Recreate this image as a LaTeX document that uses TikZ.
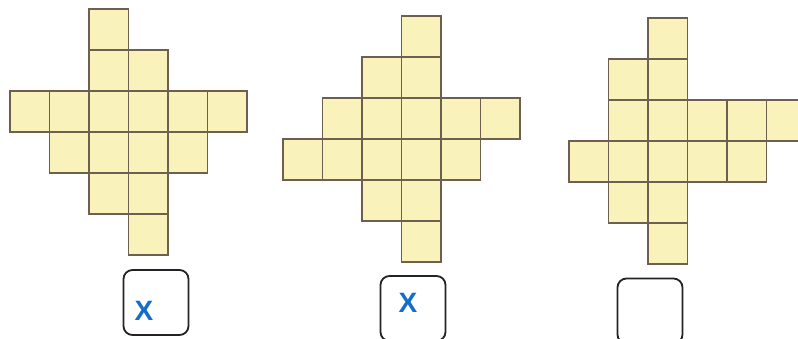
\documentclass[tikz,border=0pt]{standalone}
\usepackage{fontspec}
\setsansfont{Liberation Sans}
\definecolor{cellfill}{RGB}{249,242,186}
\definecolor{celledge}{RGB}{110,95,78}
\definecolor{markblue}{RGB}{20,110,200}
\definecolor{boxedge}{RGB}{35,35,35}
\begin{document}
\begin{tikzpicture}[
  x=1pt, y=-1pt,
  cell/.style={draw=celledge, line width=1.1pt, fill=cellfill, minimum width=39.5pt, minimum height=41pt, inner sep=0pt},
  answer/.style={draw=boxedge, line width=1.8pt, rounded corners=9pt, minimum width=65pt, minimum height=65pt, inner sep=0pt},
  xmark/.style={font=\fontsize{28}{28}\selectfont\sffamily\bfseries, text=markblue, inner sep=0pt}
]
  \useasboundingbox (0,0) rectangle (798,338);

  % first net
  \foreach \c/\r in {2/0, 2/1, 3/1, 0/2, 1/2, 2/2, 3/2, 4/2, 5/2, 1/3, 2/3, 3/3, 4/3, 2/4, 3/4, 3/5}
    \node[cell] (a-\c-\r) at (10+39.5*\c+19.75, 9+41*\r+20.5) {};

  % second net
  \foreach \c/\r in {3/0, 2/1, 3/1, 1/2, 2/2, 3/2, 4/2, 5/2, 0/3, 1/3, 2/3, 3/3, 4/3, 2/4, 3/4, 3/5}
    \node[cell] (b-\c-\r) at (283+39.5*\c+19.75, 16+41*\r+20.5) {};

  % third net
  \foreach \c/\r in {2/0, 1/1, 2/1, 1/2, 2/2, 3/2, 4/2, 5/2, 0/3, 1/3, 2/3, 3/3, 4/3, 1/4, 2/4, 2/5}
    \node[cell] (c-\c-\r) at (569+39.5*\c+19.75, 18+41*\r+20.5) {};

  % answer boxes
  \node[answer] (ans1) at (156,302.5) {};
  \node[answer] (ans2) at (413,308.5) {};
  \node[answer] (ans3) at (650,311) {};

  \node[xmark] (x1) at (144,311) {X};
  \node[xmark] (x2) at (408,303) {X};
\end{tikzpicture}
\end{document}
